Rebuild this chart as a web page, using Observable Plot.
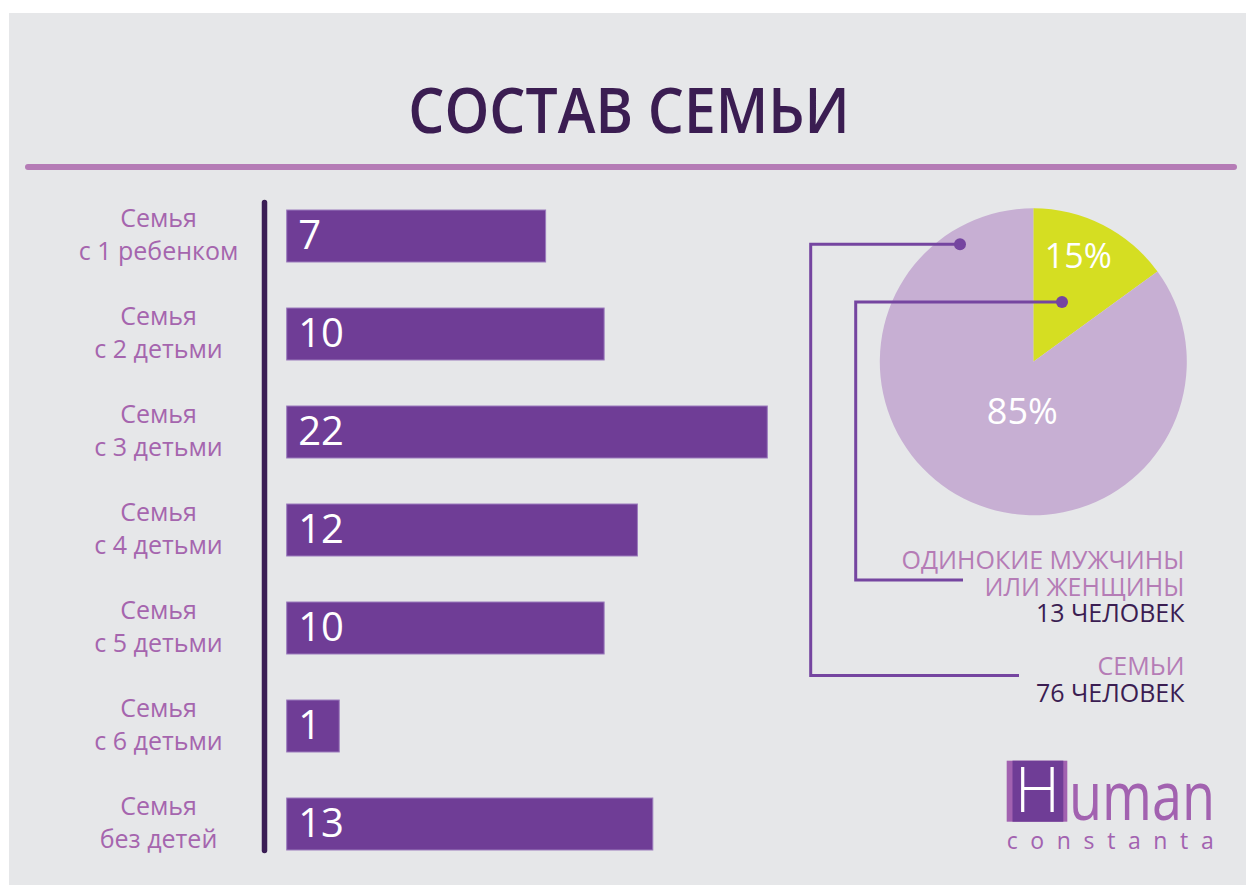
<!DOCTYPE html>
<html>
<head>
<meta charset="utf-8">
<script src="https://cdn.jsdelivr.net/npm/d3@7"></script>
<script src="https://cdn.jsdelivr.net/npm/@observablehq/plot@0.6"></script>
<style>
  html, body { margin: 0; padding: 0; background: #ffffff; }
  #page { position: relative; width: 1246px; height: 885px; overflow: hidden; font-family: "Open Sans", "Noto Sans", sans-serif; }
  #panel { position: absolute; left: 9px; top: 13px; right: 0; bottom: 0; background: #e6e7e9; }
  #title { position: absolute; left: 629px; top: 76.5px; transform: translateX(-50%) scaleX(0.905); white-space: nowrap;
           font-family: "Open Sans", "Noto Sans", sans-serif; font-size: 63px; line-height: 63px; font-weight: 600;
           letter-spacing: 0; color: #3b1d52; margin: 0; }
  #sep { position: absolute; left: 25px; top: 164px; width: 1212px; height: 6px; border-radius: 3px; background: #b57cb6; }
  #chart { position: absolute; left: 0; top: 0; }
</style>
</head>
<body>
<div id="page">
  <div id="panel"></div>
  <h1 id="title">СОСТАВ СЕМЬИ</h1>
  <div id="sep"></div>
  <div id="chart"></div>
</div>
<script>
// ---- data ----
const categories = [
  "Семья\nс 1 ребенком",
  "Семья\nс 2 детьми",
  "Семья\nс 3 детьми",
  "Семья\nс 4 детьми",
  "Семья\nс 5 детьми",
  "Семья\nс 6 детьми",
  "Семья\nбез детей"
];
const counts = [7, 10, 22, 12, 10, 1, 13];

const pieGroups = ["ОДИНОКИЕ МУЖЧИНЫ\nИЛИ ЖЕНЩИНЫ", "СЕМЬИ"];
const pieShares = [15, 85];
const pieCounts = [13, 76];
const pieColors = ["#d5de22", "#c7afd3"];

const rows = categories.map((c, i) => ({category: c, count: counts[i]}));
const pieRows = pieGroups.map((g, i) => ({group: g, share: pieShares[i], count: pieCounts[i]}));

// ---- pie + annotations as a render-function mark ----
function pieMark() {
  const g = d3.create("svg:g").attr("text-anchor", "start");
  const cx = 1033.3, cy = 361.7, r = 153.5;
  const arcs = d3.pie().sort(null).value(d => d.share)(pieRows);
  const arc = d3.arc().innerRadius(0).outerRadius(r);
  const pg = g.append("g").attr("transform", `translate(${cx},${cy})`);
  pg.selectAll("path").data(arcs).join("path")
    .attr("d", arc)
    .attr("fill", (d, i) => pieColors[i]);

  // percentage labels
  const labelPos = [[45, -94], [-11, 62]];
  const labelSize = [34, 36];
  pg.selectAll("text.pct").data(arcs).join("text")
    .attr("class", "pct")
    .attr("x", (d, i) => labelPos[i][0])
    .attr("y", (d, i) => labelPos[i][1])
    .attr("text-anchor", "middle")
    .attr("fill", "#ffffff")
    .attr("font-size", (d, i) => labelSize[i])
    .text(d => d.data.share + "%");

  // leader lines
  const leaders = [
    {dot: [1062, 302], path: "M1062,302H855.7V580H963"},
    {dot: [960, 244.3], path: "M960,244.3H810.7V675.5H1019"}
  ];
  leaders.forEach(l => {
    g.append("path").attr("d", l.path).attr("fill", "none")
      .attr("stroke", "#7545a0").attr("stroke-width", 3);
    g.append("circle").attr("cx", l.dot[0]).attr("cy", l.dot[1]).attr("r", 6).attr("fill", "#7545a0");
  });

  // legend texts
  const lx = 1184.5;
  const legend = [
    {lines: pieRows[0].group.split("\n"), count: pieRows[0].count, y0: 569},
    {lines: pieRows[1].group.split("\n"), count: pieRows[1].count, y0: 675}
  ];
  legend.forEach(L => {
    L.lines.forEach((t, k) => {
      g.append("text").attr("x", lx).attr("y", L.y0 + k * 26.5)
        .attr("text-anchor", "end").attr("font-size", 25).attr("fill", "#b57cb6").text(t);
    });
    g.append("text").attr("x", lx).attr("y", L.y0 + L.lines.length * 26.5)
      .attr("text-anchor", "end").attr("font-size", 25).attr("fill", "#3b1d52")
      .text(L.count + " ЧЕЛОВЕК");
  });

  // logo
  const lg = g.append("g");
  lg.append("rect").attr("x", 1006.7).attr("y", 760.7).attr("width", 60.6).attr("height", 61).attr("fill", "#a262b0");
  lg.append("rect").attr("x", 1012.5).attr("y", 760.7).attr("width", 50.8).attr("height", 61).attr("fill", "#6f3d96");
  lg.append("text").attr("x", 1037.5).attr("y", 812).attr("text-anchor", "middle")
    .attr("font-size", 63).attr("font-weight", 300).attr("fill", "#ffffff").text("H");
  lg.append("text").attr("x", 1069).attr("y", 820).attr("font-size", 68).attr("text-anchor", "start")
    .attr("textLength", 146).attr("lengthAdjust", "spacingAndGlyphs")
    .attr("fill", "#a262b0").text("uman");
  lg.append("text").attr("x", 1006.7).attr("y", 849).attr("font-size", 23).attr("text-anchor", "start")
    .attr("textLength", 207).attr("lengthAdjust", "spacing")
    .attr("fill", "#a262b0").text("constanta");
  return g.node();
}

const chart = Plot.plot({
  width: 1246,
  height: 885,
  marginTop: 202.5,
  marginBottom: 34.5,
  marginLeft: 0,
  marginRight: 0,
  style: {background: "transparent", fontFamily: "'Open Sans', 'Noto Sans', sans-serif", overflow: "visible"},
  x: {type: "pow", exponent: 0.4, domain: [0.41, 22], range: [286.7, 767.3], clamp: true, axis: null},
  y: {domain: categories, range: [209, 851], paddingInner: 0.47, paddingOuter: 0, align: 0.5, axis: null},
  marks: [
    Plot.ruleX([0], {dx: -22.7, stroke: "#3b1d55", strokeWidth: 5.5, strokeLinecap: "round"}),
    Plot.barX(rows, {x: "count", y: "category", fill: "#6f3d96", stroke: "#9c7cbd", strokeWidth: 1}),
    Plot.text(rows, {x: 0, y: "category", text: d => String(d.count), dx: 11, textAnchor: "start",
                     fill: "#ffffff", fontSize: 40}),
    Plot.text(rows, {x: 0, y: "category", text: "category", dx: -128.7, dy: -3.5, textAnchor: "middle",
                     fill: "#a565ae", fontSize: 25, lineHeight: 1.32}),
    pieMark
  ]
});
document.getElementById("chart").appendChild(chart);
</script>
</body>
</html>
